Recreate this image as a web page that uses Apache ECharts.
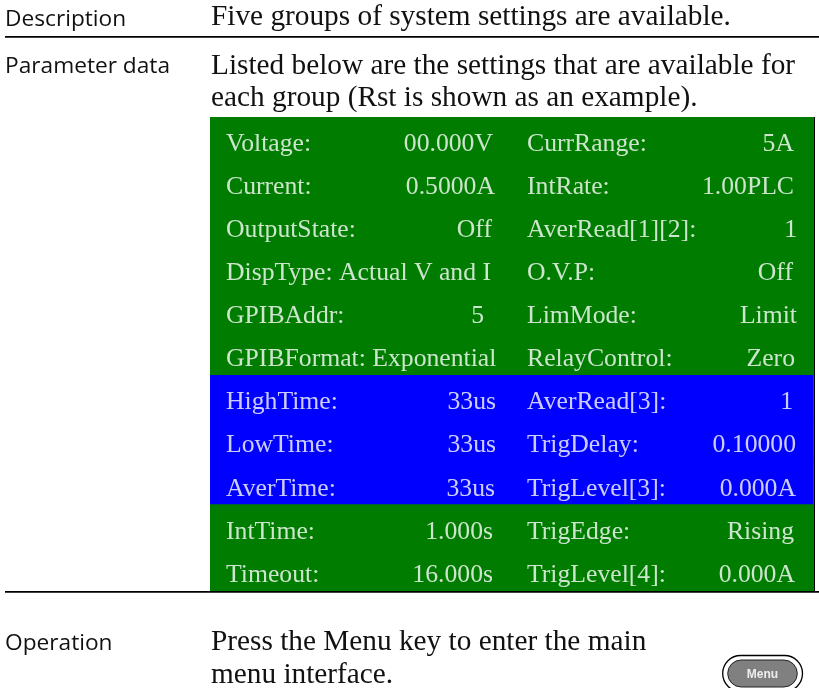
<!DOCTYPE html>
<html>
<head>
<meta charset="utf-8">
<style>html,body{margin:0;background:#fff}#main{width:819px;height:688px}</style>
<script src="https://cdn.jsdelivr.net/npm/echarts@6/dist/echarts.min.js"></script>
</head>
<body>
<div id="main"></div>
<script>
// settings table, top to bottom
var leftNames = ['Voltage:', 'Current:', 'OutputState:', 'DispType: Actual V and I', 'GPIBAddr:', 'GPIBFormat: Exponential', 'HighTime:', 'LowTime:', 'AverTime:', 'IntTime:', 'Timeout:'];
var leftValues = ['00.000V', '0.5000A', 'Off', '', '5', '', '33us', '33us', '33us', '1.000s', '16.000s'];
var rightNames = ['CurrRange:', 'IntRate:', 'AverRead[1][2]:', 'O.V.P:', 'LimMode:', 'RelayControl:', 'AverRead[3]:', 'TrigDelay:', 'TrigLevel[3]:', 'TrigEdge:', 'TrigLevel[4]:'];
var rightValues = ['5A', '1.00PLC', '1', 'Off', 'Limit', 'Zero', '1', '0.10000', '0.000A', 'Rising', '0.000A'];
var rowGroups = ['g', 'g', 'g', 'g', 'g', 'g', 'b', 'b', 'b', 'g', 'g'];

// the values in the original are not quite flush right
var leftValueEdge = [283, 285, 282, 0, 274, 0, 286, 286, 285, 283, 283];
var rightValueEdge = [584, 584, 587, 583, 587, 585, 583, 586, 586, 584, 585];

var groupColors = { g: '#007d00', b: '#0000ff' };
var serif = '"Liberation Serif", serif';
var TABLE_W = 603.3;
var rowIdx = leftNames.map(function (_, i) { return i; });

function textColumn(xPos, texts, side) {
  return {
    type: 'scatter',
    symbolSize: 0,
    silent: true,
    data: rowIdx.map(function (i) {
      return [Array.isArray(xPos) ? xPos[i] : xPos, i, texts[i]];
    }),
    label: {
      show: true,
      position: side,
      distance: 0,
      offset: [0, 5.5],
      color: '#fff',
      fontFamily: serif,
      fontSize: 25.7,
      formatter: function (p) { return p.value[2]; }
    }
  };
}

function prose(y, text) {
  return { type: 'text', x: 211, y: y, style: { text: text, fill: '#111', font: '29.3px ' + serif, verticalAlign: 'middle' } };
}
function heading(y, text) {
  return { type: 'text', x: 5, y: y, style: { text: text, fill: '#111', font: '22.7px "Open Sans", sans-serif', verticalAlign: 'middle' } };
}
function rule(y) {
  return { type: 'rect', shape: { x: 5, y: y, width: 814, height: 1.7 }, style: { fill: '#000' } };
}

var chart = echarts.init(document.getElementById('main'), null, { renderer: 'canvas' });
chart.setOption({
  animation: false,
  grid: { left: 210, top: 117, width: TABLE_W, height: 474 },
  xAxis: { type: 'value', min: 0, max: TABLE_W, show: false },
  yAxis: { type: 'category', inverse: true, show: false, data: rowIdx },
  series: [
    {
      type: 'bar',
      barWidth: 44,
      silent: true,
      data: rowIdx.map(function (i) {
        return { value: TABLE_W, itemStyle: { color: groupColors[rowGroups[i]] } };
      })
    },
    textColumn(16, leftNames, 'right'),
    textColumn(leftValueEdge, leftValues, 'left'),
    textColumn(317, rightNames, 'right'),
    textColumn(rightValueEdge, rightValues, 'left')
  ],
  graphic: [
    rule(36),
    rule(591),
    { type: 'rect', shape: { x: 813.3, y: 117, width: 1.7, height: 474 }, style: { fill: '#000' } },
    heading(20, 'Description'),
    heading(67, 'Parameter data'),
    heading(644, 'Operation'),
    prose(17.5, 'Five groups of system settings are available.'),
    prose(66.5, 'Listed below are the settings that are available for'),
    prose(98.5, 'each group (Rst is shown as an example).'),
    prose(642.5, 'Press the Menu key to enter the main'),
    prose(675.5, 'menu interface.'),
    { type: 'rect', shape: { x: 722.7, y: 655.5, width: 79.8, height: 36, r: 18 }, style: { fill: '#fff', stroke: '#000', lineWidth: 1.3 } },
    { type: 'rect', shape: { x: 727.7, y: 660, width: 69.6, height: 27, r: 13.5 }, style: { fill: '#808080', stroke: '#222', lineWidth: 1 } },
    { type: 'text', x: 762.5, y: 675, style: { text: 'Menu', fill: '#eee', font: 'bold 12px "Liberation Sans", sans-serif', align: 'center', verticalAlign: 'middle' } }
  ]
});
</script>
</body>
</html>
